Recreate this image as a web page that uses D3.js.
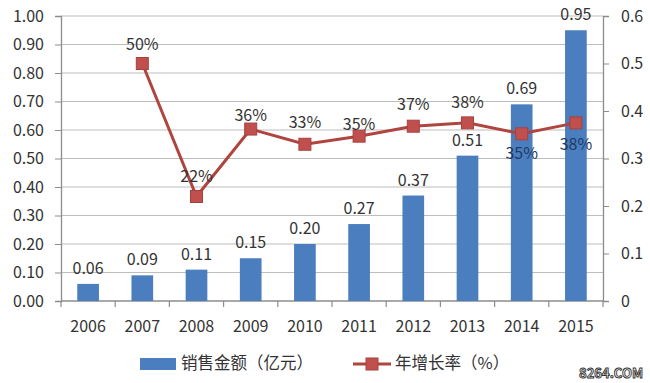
<!DOCTYPE html>
<html><head><meta charset="utf-8">
<script src="https://cdn.jsdelivr.net/npm/d3@7"></script>
<style>body{margin:0;background:#fff}svg text{font-family:"Noto Sans CJK SC","Noto Sans",sans-serif}</style>
</head><body>
<svg id="c" width="650" height="383"></svg>
<script>
const years = ["2006","2007","2008","2009","2010","2011","2012","2013","2014","2015"];
const sales = [0.06,0.09,0.11,0.15,0.20,0.27,0.37,0.51,0.69,0.95];
const salesLabels = ["0.06","0.09","0.11","0.15","0.20","0.27","0.37","0.51","0.69","0.95"];
const growthYears = ["2007","2008","2009","2010","2011","2012","2013","2014","2015"];
const growth = [0.50,0.22,0.362,0.33,0.347,0.368,0.375,0.352,0.375];
const growthLabels = ["50%","22%","36%","33%","35%","37%","38%","35%","38%"];
const leftTicks = [0,0.1,0.2,0.3,0.4,0.5,0.6,0.7,0.8,0.9,1.0];
const rightTicks = [0,0.1,0.2,0.3,0.4,0.5,0.6];
const legendNames = ["销售金额（亿元）","年增长率（%）"];

const svg = d3.select("#c");
const L = 61, R = 603, T = 16, B = 301;
const FS = 16;
const x = d3.scaleBand().domain(years).range([L, R]).paddingInner(0.6).paddingOuter(0.3);
const xc = d => x(d) + x.bandwidth()/2;
const yL = d3.scaleLinear().domain([0,1]).range([B, T]);
const yR = d3.scaleLinear().domain([0,0.6]).range([B, T]);

// gridlines
svg.append("g").selectAll("line").data(leftTicks.slice(1)).join("line")
  .attr("x1", L).attr("x2", R).attr("y1", d=>yL(d)).attr("y2", d=>yL(d))
  .attr("stroke", "#bdbdbd").attr("stroke-width", 1.2);

// left axis
const gl = svg.append("g").attr("transform", `translate(${L},0)`)
  .call(d3.axisLeft(yL).tickValues(leftTicks).tickFormat(d3.format(".2f")).tickSize(6).tickPadding(11));
gl.select(".domain").attr("stroke", "#8c8c8c").attr("stroke-width", 1.3);
gl.selectAll(".tick line").attr("stroke", "#8c8c8c");
gl.selectAll("text").attr("font-size", FS).attr("fill", "#333");

// right axis
const gr = svg.append("g").attr("transform", `translate(${R},0)`)
  .call(d3.axisRight(yR).tickValues(rightTicks).tickFormat(d=>d3.format("")(+d.toFixed(1))).tickSize(6).tickPadding(12));
gr.select(".domain").attr("stroke", "#8c8c8c").attr("stroke-width", 1.3);
gr.selectAll(".tick line").attr("stroke", "#8c8c8c");
gr.selectAll("text").attr("font-size", FS).attr("fill", "#333");

// bottom axis
const xb = d3.scalePoint().domain(d3.range(11)).range([L, R]);
svg.append("g").selectAll("line").data(d3.range(11)).join("line")
  .attr("x1", d=>xb(d)).attr("x2", d=>xb(d)).attr("y1", B).attr("y2", B+6)
  .attr("stroke", "#8c8c8c").attr("stroke-width", 1.2);
svg.append("line").attr("x1", L).attr("x2", R).attr("y1", B).attr("y2", B)
  .attr("stroke", "#8c8c8c").attr("stroke-width", 1.3);
svg.append("g").selectAll("text").data(years).join("text")
  .attr("x", d=>xc(d)).attr("y", 332).attr("text-anchor", "middle")
  .attr("font-size", FS).attr("fill", "#333").text(d=>d);

// bars
svg.append("g").selectAll("rect").data(years).join("rect")
  .attr("x", d=>x(d)).attr("width", x.bandwidth())
  .attr("y", (d,i)=>yL(sales[i])).attr("height", (d,i)=>B - yL(sales[i]))
  .attr("fill", "#4a7ebf");

// bar labels
svg.append("g").selectAll("text").data(years).join("text")
  .attr("x", d=>xc(d)).attr("y", (d,i)=>yL(sales[i]) - 10).attr("text-anchor", "middle")
  .attr("font-size", FS).attr("fill", "#333").text((d,i)=>salesLabels[i]);

// line
const line = d3.line().x(d=>xc(d[0])).y(d=>yR(d[1]));
const pts = growthYears.map((d,i)=>[d, growth[i]]);
svg.append("path").datum(pts).attr("d", line).attr("fill", "none")
  .attr("stroke", "#b0443f").attr("stroke-width", 3);
svg.append("g").selectAll("rect").data(pts).join("rect")
  .attr("x", d=>xc(d[0])-6).attr("y", d=>yR(d[1])-6).attr("width", 12).attr("height", 12)
  .attr("fill", "#c0504d").attr("stroke", "#a8403c").attr("stroke-width", 1);

// line labels (offset: negative above, positive below)
const offs = [-14,-15,-8,-16,-6,-16,-15,25,27];
svg.append("g").selectAll("text").data(pts).join("text")
  .attr("x", d=>xc(d[0])).attr("y", (d,i)=>yR(d[1]) + offs[i]).attr("text-anchor", "middle")
  .attr("font-size", FS).attr("fill", (d,i)=> i>=7 ? "#1f3a63" : "#333").text((d,i)=>growthLabels[i]);

// legend
svg.append("rect").attr("x", 140).attr("y", 358).attr("width", 36).attr("height", 12).attr("fill", "#4a7ebf");
svg.append("text").attr("x", 181).attr("y", 369).attr("font-size", 16.5).attr("fill", "#333").text(legendNames[0]);
svg.append("line").attr("x1", 353).attr("x2", 391).attr("y1", 364).attr("y2", 364).attr("stroke", "#b0443f").attr("stroke-width", 3);
svg.append("rect").attr("x", 366).attr("y", 358).attr("width", 12).attr("height", 12).attr("fill", "#c0504d").attr("stroke", "#a8403c");
svg.append("text").attr("x", 395).attr("y", 369).attr("font-size", 16.5).attr("fill", "#333").text(legendNames[1]);

// watermark
svg.append("text").attr("x", 643).attr("y", 378).attr("text-anchor", "end")
  .attr("font-size", 13).attr("font-weight", "bold").attr("fill", "#fff")
  .attr("stroke", "#333").attr("stroke-width", 0.9).attr("font-family", "DejaVu Sans").text("8264.COM");
</script>
</body></html>
